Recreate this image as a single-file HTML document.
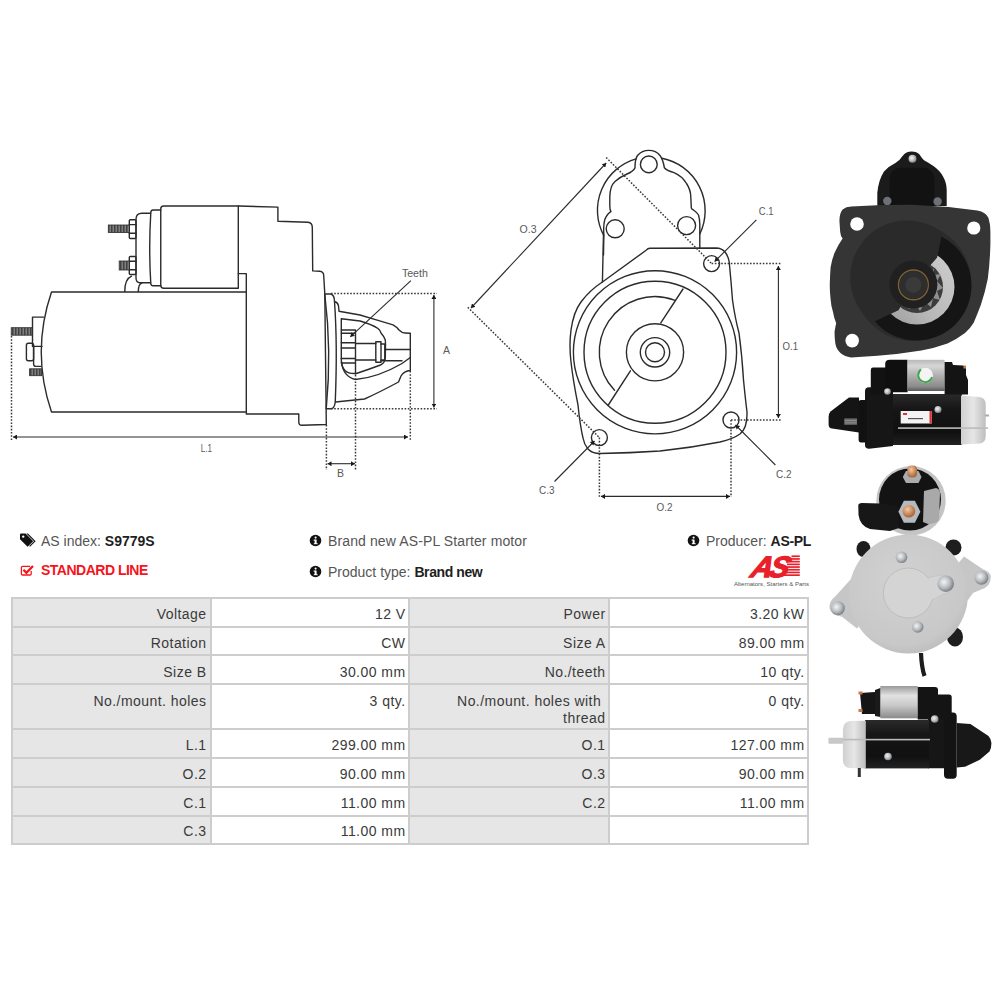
<!DOCTYPE html>
<html><head><meta charset="utf-8">
<style>
*{margin:0;padding:0;box-sizing:border-box}
html,body{width:1000px;height:1000px;background:#fff;overflow:hidden}
body{position:relative;font-family:"Liberation Sans",sans-serif;color:#3a3a3a}
.a{position:absolute;white-space:nowrap}
.t{position:absolute;font-size:14px;line-height:17px;white-space:nowrap;color:#3a3a3a;text-align:right;letter-spacing:0.45px}
.bg{position:absolute;background:#e6e6e6}
.hl{position:absolute;height:2px;background:#cdcdcd}
.vl{position:absolute;width:2px;background:#cdcdcd}
b{font-weight:700;color:#1e1e1e}
svg{position:absolute;left:0;top:0}
</style></head><body>

<!-- info lines -->
<div class="a" style="left:19px;top:532px;width:18px;height:16px">
<svg width="18" height="16" viewBox="0 0 18 16"><path d="M1 2.2 L1 7.2 L8.6 14.8 L14.2 9.2 L6.6 1.6 L1.6 1.6 Z" fill="#111"/><circle cx="4.2" cy="4.6" r="1.2" fill="#fff"/><path d="M9 1.6 L16.6 9.2 L11 14.8 L10.2 14 L15 9.2 L7.4 1.6 Z" fill="#111"/></svg>
</div>
<div class="a" style="left:41px;top:533px;font-size:14px;line-height:17px;color:#555">AS index: <b>S9779S</b></div>

<svg style="left:0;top:0" width="40" height="600" viewBox="0 0 40 600"><path d="M30 566.3 L22.6 566.3 Q21.4 566.3 21.4 567.5 L21.4 573.8 Q21.4 575 22.6 575 L30 575 Q31.2 575 31.2 573.8 L31.2 571" fill="none" stroke="#f5141c" stroke-width="1.3"/><path d="M23.4 569.8 L26.4 572.8 L33 566" fill="none" stroke="#f5141c" stroke-width="2.3"/></svg>
<div class="a" style="left:41px;top:562px;font-size:14px;line-height:17px;color:#f5141c;font-weight:700;letter-spacing:-0.5px">STANDARD LINE</div>

<div class="a" style="left:309px;top:534px;width:13px;height:13px">
<svg width="13" height="13" viewBox="0 0 13 13"><circle cx="6.5" cy="6.5" r="5.8" fill="#111"/><rect x="5.6" y="5.6" width="2" height="4.4" fill="#fff"/><rect x="4.6" y="5.6" width="2" height="1" fill="#fff"/><rect x="4.8" y="9.2" width="3.8" height="1" fill="#fff"/><circle cx="6.6" cy="3.6" r="1.05" fill="#fff"/></svg>
</div>
<div class="a" style="left:328px;top:533px;font-size:14px;line-height:17px;color:#555;letter-spacing:0.12px">Brand new AS-PL Starter motor</div>

<div class="a" style="left:309px;top:565px;width:13px;height:13px">
<svg width="13" height="13" viewBox="0 0 13 13"><circle cx="6.5" cy="6.5" r="5.8" fill="#111"/><rect x="5.6" y="5.6" width="2" height="4.4" fill="#fff"/><rect x="4.6" y="5.6" width="2" height="1" fill="#fff"/><rect x="4.8" y="9.2" width="3.8" height="1" fill="#fff"/><circle cx="6.6" cy="3.6" r="1.05" fill="#fff"/></svg>
</div>
<div class="a" style="left:328px;top:564px;font-size:14px;line-height:17px;color:#555">Product type: <b style="letter-spacing:-0.4px">Brand new</b></div>

<div class="a" style="left:687px;top:534px;width:13px;height:13px">
<svg width="13" height="13" viewBox="0 0 13 13"><circle cx="6.5" cy="6.5" r="5.8" fill="#111"/><rect x="5.6" y="5.6" width="2" height="4.4" fill="#fff"/><rect x="4.6" y="5.6" width="2" height="1" fill="#fff"/><rect x="4.8" y="9.2" width="3.8" height="1" fill="#fff"/><circle cx="6.6" cy="3.6" r="1.05" fill="#fff"/></svg>
</div>
<div class="a" style="left:706px;top:533px;font-size:14px;line-height:17px;color:#555">Producer: <b style="letter-spacing:-0.3px">AS-PL</b></div>

<!-- AS logo -->
<svg style="left:730px;top:550px" width="82" height="40" viewBox="730 550 82 40">
<g fill="#e8202a">
<text x="0" y="0" transform="translate(749.5 577) skewX(-16)" font-family="Liberation Sans" font-weight="700" font-style="italic" font-size="29.5" letter-spacing="-3.2" stroke="#e8202a" stroke-width="1.3">AS</text>
<rect x="791.5" y="555.4" width="8.3" height="1.7"/><rect x="790.0" y="558.1" width="9.8" height="1.7"/><rect x="788.5" y="560.8" width="11.3" height="1.7"/><rect x="787.0" y="563.5" width="12.8" height="1.7"/><rect x="785.6" y="566.2" width="14.2" height="1.7"/><rect x="784.1" y="568.9" width="15.7" height="1.7"/><rect x="782.6" y="571.6" width="17.2" height="1.7"/><rect x="781.1" y="574.3" width="18.7" height="1.7"/>
</g>
<text x="734" y="586.2" font-family="Liberation Sans" font-size="5.4" fill="#555" textLength="75" lengthAdjust="spacingAndGlyphs">Alternators, Starters &amp; Parts</text>
</svg>

<!-- table -->
<div class="bg" style="left:12px;top:598px;width:199px;height:246px"></div>
<div class="bg" style="left:410px;top:598px;width:199px;height:246px"></div>
<div class="hl" style="left:11px;top:597px;width:798px"></div>
<div class="hl" style="left:11px;top:625.5px;width:798px"></div>
<div class="hl" style="left:11px;top:654.3px;width:798px"></div>
<div class="hl" style="left:11px;top:683px;width:798px"></div>
<div class="hl" style="left:11px;top:728.1px;width:798px"></div>
<div class="hl" style="left:11px;top:757px;width:798px"></div>
<div class="hl" style="left:11px;top:786px;width:798px"></div>
<div class="hl" style="left:11px;top:814.7px;width:798px"></div>
<div class="hl" style="left:11px;top:843px;width:798px"></div>
<div class="vl" style="left:11px;top:597px;height:248px"></div>
<div class="vl" style="left:210.2px;top:597px;height:248px"></div>
<div class="vl" style="left:408.3px;top:597px;height:248px"></div>
<div class="vl" style="left:608.2px;top:597px;height:248px"></div>
<div class="vl" style="left:807.2px;top:597px;height:248px"></div>

<!-- table text: right col edge minus 6 -->
<div class="t" style="right:793.5px;top:605.5px">Voltage</div>
<div class="t" style="right:594.5px;top:605.5px">12 V</div>
<div class="t" style="right:394.5px;top:605.5px">Power</div>
<div class="t" style="right:195.5px;top:605.5px">3.20 kW</div>

<div class="t" style="right:793.5px;top:635px">Rotation</div>
<div class="t" style="right:594.5px;top:635px">CW</div>
<div class="t" style="right:394.5px;top:635px">Size A</div>
<div class="t" style="right:195.5px;top:635px">89.00 mm</div>

<div class="t" style="right:793.5px;top:664px">Size B</div>
<div class="t" style="right:594.5px;top:664px">30.00 mm</div>
<div class="t" style="right:394.5px;top:664px">No./teeth</div>
<div class="t" style="right:195.5px;top:664px">10 qty.</div>

<div class="t" style="right:793.5px;top:693px">No./mount. holes</div>
<div class="t" style="right:594.5px;top:693px">3 qty.</div>
<div class="t" style="right:394.5px;top:693px;line-height:16.5px">No./mount. holes with&nbsp;<br>thread</div>
<div class="t" style="right:195.5px;top:693px">0 qty.</div>

<div class="t" style="right:793.5px;top:736.5px">L.1</div>
<div class="t" style="right:594.5px;top:736.5px">299.00 mm</div>
<div class="t" style="right:394.5px;top:736.5px">O.1</div>
<div class="t" style="right:195.5px;top:736.5px">127.00 mm</div>

<div class="t" style="right:793.5px;top:765.5px">O.2</div>
<div class="t" style="right:594.5px;top:765.5px">90.00 mm</div>
<div class="t" style="right:394.5px;top:765.5px">O.3</div>
<div class="t" style="right:195.5px;top:765.5px">90.00 mm</div>

<div class="t" style="right:793.5px;top:794.5px">C.1</div>
<div class="t" style="right:594.5px;top:794.5px">11.00 mm</div>
<div class="t" style="right:394.5px;top:794.5px">C.2</div>
<div class="t" style="right:195.5px;top:794.5px">11.00 mm</div>

<div class="t" style="right:793.5px;top:823px">C.3</div>
<div class="t" style="right:594.5px;top:823px">11.00 mm</div>

<!-- DRAWINGS -->
<svg style="left:0;top:0" width="1000" height="520" viewBox="0 0 1000 520">
<defs>
<pattern id="th" width="1.5" height="10" patternUnits="userSpaceOnUse"><rect width="1.5" height="10" fill="#bbb"/><rect width="1" height="10" fill="#333"/></pattern>
<marker id="ar" viewBox="0 0 10 10" refX="10" refY="5" markerWidth="4" markerHeight="5" preserveAspectRatio="none" markerUnits="userSpaceOnUse" orient="auto-start-reverse"><path d="M0 0 L10 5 L0 10 Z" fill="#1a1a1a"/></marker>
</defs>
<g fill="none" stroke="#2b2b2b" stroke-width="1.4" stroke-linejoin="round" stroke-linecap="round">
<!-- LEFT DRAWING: motor body -->
<path d="M246.3 292 L51.5 292 Q31 352 51.5 412 L245.5 412"/>
<!-- housing -->
<path d="M238.3 206 L277.9 207.1 L277.9 221.2 L308 222.3 Q312.3 222.6 312.3 227.5 L312.7 270.9 L319.7 271.2 Q323.5 271.6 323.7 275.3 L324.8 294 L326.3 424.5 L302 425.3 Q298.8 425.3 298.8 422 L298.8 414 L246.3 414 L246.3 273.65 L238.3 273.65"/>
<!-- solenoid -->
<path d="M238.3 288.3 L163.75 288.3 Q160.75 288.3 160.75 285.3 L160.75 209 Q160.75 206 163.75 206 L238.3 206 Z"/>
<path d="M160.75 210 L153 210 Q151 210 150.8 212.5 Q148.6 248 150.8 283.5 Q151 285.75 153 285.75 L160.75 285.75"/>
<path d="M150.5 213.3 L142 213.3 Q136 213.3 136 219.3 L136 278 Q136 282.75 140 282.75 L150.5 282.75"/>
<!-- nuts -->
<rect x="129.3" y="219.8" width="6.7" height="18.7" rx="1"/>
<path d="M129.3 224.6 L136 224.6 M129.3 233.3 L136 233.3"/>
<rect x="129.3" y="256.5" width="6.7" height="18" rx="1"/>
<path d="M129.3 261.2 L136 261.2 M129.3 269.8 L136 269.8"/>
<!-- cable loops -->
<path d="M124.8 291.5 Q124.8 279 131.5 276.2"/>
<path d="M138.3 291.5 Q138.3 284 142 282.8"/>
<!-- end terminal -->
<path d="M43.6 317.1 L32.5 317.1 L32.5 346.4 L42 346.4"/>
<path d="M33.6 346.4 L33.6 364 Q33.6 366.4 36 366.4 L40.6 366.4"/>
<rect x="26.4" y="343.2" width="7.2" height="17.6" rx="2"/>
<!-- nose flange -->
<path d="M325.5 294 L330.75 294 Q334.5 295 334.5 301.5 Q337.6 345 335.25 402 Q334.5 408.75 330.75 408.75 L326.25 408.75"/>
<path d="M324.8 294.5 Q331.8 351 326.3 408"/>
<!-- nose outer -->
<path d="M334.6 301.5 Q338 302.5 338.5 306 L339 311.3 L360 315 L378 320.3 L393 324.8 Q397 327 399 330 Q402 333 405 333 L410.3 333.3 L410.3 370.5 Q404 371 401 376 L398.5 382 Q380 392 364.5 399 L335.5 402"/>
<!-- inner window -->
<path d="M341.3 318.8 L360 321 Q372 324.5 378 328.5 Q380.5 330.5 381 333 Q384.5 337 385.3 340 L385.5 344 L385.3 358 Q384.8 363 380.5 365 Q370 369 356.3 373.5 Q348.5 374 345 370.5 Q341.3 366.5 341.3 360 Z"/>
<path d="M341.6 362 Q343 376.5 355.5 379.5 Q378 377.5 402 363.5 L410.3 357.5"/>
<!-- pinion -->
<path d="M341.3 330 L355.5 330 M341.3 333.2 L355.5 333.2 M341.3 342.8 L355.5 342.8 M341.3 348 L355.5 348 M341.3 358.5 L355.5 358.5 M341.3 363 L355.5 363 M355.5 330 L355.5 374"/>
<path d="M355.5 343.5 L375.8 343.5 M355.5 360 L375.8 360"/>
<rect x="375.8" y="341.7" width="5.2" height="20.6"/>
<path d="M381 344 L384.8 344 L384.8 360 L381 360"/>
<path d="M384.8 349.5 L410.3 349.5 M381 360.8 L402 360.8"/>
</g>
<!-- threads -->
<g stroke="#2b2b2b" stroke-width="0.8">
<rect x="108.3" y="225" width="21" height="7.5" fill="url(#th)"/>
<rect x="119.2" y="261" width="10.1" height="9" fill="url(#th)"/>
<rect x="11.2" y="327.7" width="21.3" height="7.5" fill="url(#th)"/>
<rect x="29.6" y="368.8" width="12" height="6.9" fill="url(#th)"/>
</g>
<!-- dims left -->
<g fill="none" stroke="#3a3a3a" stroke-width="1.5" stroke-dasharray="1.6 1.6">
<path d="M331 293.5 L437 293.5 M331 408.7 L437 408.7 M355.5 375 L355.5 470 M410.3 371 L410.3 440 M326.4 425 L326.4 470 M11.5 336 L11.5 440"/>
</g>
<g fill="none" stroke="#2b2b2b" stroke-width="1.1">
<path d="M433.9 295 L433.9 407.5" marker-start="url(#ar)" marker-end="url(#ar)"/>
<path d="M13 437 L408 437" marker-start="url(#ar)" marker-end="url(#ar)"/>
<path d="M327.5 463.7 L355 463.7" marker-start="url(#ar)" marker-end="url(#ar)"/>
<path d="M410.9 280.7 L350.3 336.8" marker-end="url(#ar)"/>
</g>
<g font-family="Liberation Sans" fill="#5a5a5a" font-size="10.5">
<text x="401.9" y="276.8" font-size="11" textLength="26" lengthAdjust="spacingAndGlyphs">Teeth</text>
<text x="443" y="354">A</text>
<text x="200.8" y="452" textLength="11.2" lengthAdjust="spacingAndGlyphs">L.1</text>
<text x="337" y="477">B</text>
</g>

<!-- MIDDLE DRAWING -->
<g fill="none" stroke="#2b2b2b" stroke-width="1.4" stroke-linejoin="round" stroke-linecap="round">
<!-- top lobe holes -->
<circle cx="648.8" cy="164.4" r="8.4"/>
<circle cx="615.2" cy="228.8" r="9"/>
<circle cx="686.6" cy="225.6" r="9"/>
<!-- outer arc -->
<path d="M603.8 235.5 A53.5 53.5 0 0 1 636.2 158.8"/>
<path d="M662 158.2 A53.5 53.5 0 0 1 699.8 234"/>
<!-- lobe + inner profile -->
<path d="M603.5 255 L603.8 236 Q603 221 606 217 Q608.5 212.5 611 211.6 Q609.8 210 609.8 206 L609.8 197 Q610 186 615 181.5 Q620 177 627 174 Q633 171.5 635 167.8 Q635 159 637.5 155.5 Q642 150.4 648.8 150.4 Q656 150.4 660 155.5 Q663 159.5 664.4 167.8 Q666.5 170.5 674 172.6 Q682 176 686.5 183.5 Q690.8 190 690.8 197 L691.3 208 Q692 209.5 693.5 210 Q697 212.5 698.5 215 Q699.8 219 699.8 224 L699.8 248.2"/>
<!-- flange plate -->
<path d="M602.4 282 L646.5 250 Q647.5 248.4 650 248.3 L716 248 Q722 248.2 725 252 Q728.2 256 729.2 262 Q731 280 732.5 300 Q735 318 739 333 Q742 355 743.5 380 Q745.5 400 747 412 Q747.5 428 740 434 Q733 439 720 442 Q690 448 660 451 Q630 453 600 453.5 Q592 453.5 588 449 Q584 444 583 438 Q580 425 578 405 Q573 380 571 362 Q569 345 571 330 Q573.5 312 581 302 Q590 290 602.4 282"/>
<path d="M603.5 234 L602.4 282"/>
<!-- circles -->
<circle cx="655" cy="352.3" r="81.6"/>
<circle cx="655" cy="352.3" r="71"/>
<path d="M674.4 300.2 A55.5 55.5 0 0 0 614.5 390.3"/>
<circle cx="655" cy="352.3" r="28.6"/>
<circle cx="655" cy="352.3" r="14.7"/>
<circle cx="655" cy="352.3" r="9.5"/>
<path d="M683 289 L660.8 322.8 M630.4 370.8 L608 405.5"/>
<!-- mount holes -->
<circle cx="711.6" cy="263.6" r="8"/>
<circle cx="731" cy="420" r="8"/>
<circle cx="599.4" cy="437.6" r="8"/>
</g>
<!-- middle dims -->
<g fill="none" stroke="#3a3a3a" stroke-width="1.5" stroke-dasharray="1.6 1.6">
<path d="M606.2 157.5 L711.6 263.6 M711.6 263.6 L781 263.6 M731 420 L781 420 M731 420 L731 497 M599.4 437.6 L599.4 497 M467.8 307.3 L599.4 437.6"/>
</g>
<g fill="none" stroke="#2b2b2b" stroke-width="1.1">
<path d="M778.4 266 L778.4 418" marker-start="url(#ar)" marker-end="url(#ar)"/>
<path d="M601 496.4 L730 496.4" marker-start="url(#ar)" marker-end="url(#ar)"/>
<path d="M606.2 163 L471 308" marker-start="url(#ar)" marker-end="url(#ar)"/>
<path d="M756.4 219.8 L714.6 261.6" marker-end="url(#ar)"/>
<path d="M775.4 465 L735.5 425" marker-end="url(#ar)"/>
<path d="M554.5 481.5 L594.5 441" marker-end="url(#ar)"/>
</g>
<g font-family="Liberation Sans" fill="#5a5a5a" font-size="10.5">
<text x="519.6" y="232.5" textLength="17" lengthAdjust="spacingAndGlyphs">O.3</text>
<text x="758.8" y="214.5" textLength="14.8" lengthAdjust="spacingAndGlyphs">C.1</text>
<text x="782.5" y="349.5" textLength="15.5" lengthAdjust="spacingAndGlyphs">O.1</text>
<text x="776" y="477.5" textLength="15.5" lengthAdjust="spacingAndGlyphs">C.2</text>
<text x="539" y="493.5" textLength="15.5" lengthAdjust="spacingAndGlyphs">C.3</text>
<text x="656.5" y="510.5" textLength="16" lengthAdjust="spacingAndGlyphs">O.2</text>
</g>
</svg>


<!-- PHOTOS -->
<svg style="left:0;top:0" width="1000" height="800" viewBox="0 0 1000 800">
<defs>
<linearGradient id="silv" x1="0" y1="0" x2="0" y2="1"><stop offset="0" stop-color="#b8b8b8"/><stop offset="0.2" stop-color="#d6d6d6"/><stop offset="0.5" stop-color="#b0b0b0"/><stop offset="0.85" stop-color="#8c8c8c"/><stop offset="1" stop-color="#5a5a5a"/></linearGradient>
<linearGradient id="silv2" x1="0" y1="0" x2="0" y2="1"><stop offset="0" stop-color="#9a9a9a"/><stop offset="0.3" stop-color="#e2e2e2"/><stop offset="0.6" stop-color="#c8c8c8"/><stop offset="1" stop-color="#8a8a8a"/></linearGradient>
<linearGradient id="ring" x1="1" y1="0" x2="0" y2="1"><stop offset="0" stop-color="#cfcfcf"/><stop offset="0.6" stop-color="#b8b8b8"/><stop offset="1" stop-color="#9a9a9a"/></linearGradient>
<linearGradient id="cap" x1="0" y1="0" x2="1" y2="0"><stop offset="0" stop-color="#d0d0d0"/><stop offset="0.5" stop-color="#e6e6e6"/><stop offset="1" stop-color="#bdbdbd"/></linearGradient>
<radialGradient id="disc" cx="0.45" cy="0.4" r="0.7"><stop offset="0" stop-color="#d2d2d2"/><stop offset="0.75" stop-color="#c8c8c8"/><stop offset="1" stop-color="#b4b4b4"/></radialGradient>
<linearGradient id="blk" x1="0" y1="0" x2="0" y2="1"><stop offset="0" stop-color="#2a2a2a"/><stop offset="0.3" stop-color="#161616"/><stop offset="0.75" stop-color="#101010"/><stop offset="1" stop-color="#222"/></linearGradient>
<radialGradient id="bolt" cx="0.4" cy="0.4" r="0.6"><stop offset="0" stop-color="#f4f4f4"/><stop offset="0.6" stop-color="#b8bcc0"/><stop offset="1" stop-color="#7d8288"/></radialGradient>
<radialGradient id="cu" cx="0.4" cy="0.35" r="0.6"><stop offset="0" stop-color="#f2c9a8"/><stop offset="1" stop-color="#b06a3a"/></radialGradient>
</defs>

<!-- PHOTO 1: front view black -->
<g>
<!-- solenoid dome -->
<path d="M877.3 206 L877.3 193 Q878.5 180 884 171.6 Q889 166 895.4 163 Q900 160 903 155.4 Q906 151.6 911.5 151.6 Q917 151.6 919.5 154.5 Q922 158.5 924 160.2 Q929 163 933.4 165.9 Q940 170.5 942.9 176.3 Q946.7 183 946.7 190 L946.7 206 Z" fill="#1b1b1b"/>
<path d="M889.7 206 L889.7 178 Q891 169 900 167.8 L924 167.8 Q933 169 934.3 178 L934.3 206 Z" fill="#121212"/>
<circle cx="912.5" cy="158.8" r="4" fill="url(#bolt)"/>
<circle cx="887.3" cy="201" r="4.2" fill="#6d7074"/>
<circle cx="937.6" cy="201.5" r="4.2" fill="#6d7074"/>
<!-- plate -->
<path d="M851.3 206.6 Q880 204.5 912 204.8 Q945 206 977.3 210.5 Q986 212 988.5 218 Q990.4 224 990.4 232 L990.4 243.8 Q990 262 987.8 278.8 Q985 293 980.8 305 Q977 315 973.8 322.5 Q970 329 965 333 Q957 339 947.5 343.5 Q935 348 921.3 350.5 Q900 354 877.5 355.8 L851 357.6 Q844.5 356.5 841 353.6 Q836.5 349.5 835.4 344 Q834.4 337 834.6 331.2 Q835.5 326 836.2 323.2 Q834 318 833 312 Q831 305.5 830.6 299.2 Q829.6 291 829.8 283.2 Q830 275 830.6 267.2 Q832 259 834.6 252.8 Q838.5 244 842.6 238.4 Q840.5 236 840.2 232 L839.4 220.8 Q839.6 213 842.6 209.6 Q846 206.8 851.3 206.6 Z" fill="#353535"/>
<!-- boss -->
<circle cx="912.5" cy="282.3" r="58.6" fill="#2b2b2b"/>
<circle cx="916.5" cy="285.5" r="55" fill="#151515"/>
<!-- silver ring -->
<circle cx="917" cy="287" r="37.5" fill="url(#ring)"/>
<circle cx="917" cy="287" r="26" fill="#3c3c3c"/>
<path d="M899 306 L905 300 L909 309 L915 303 L920 311 L925 302 L931 307 L933 298 L940 300 L937 291 L943 288 L937 281 L941 274 L933 275 L934 268 L920 290 Z" fill="#8f8f8f"/>
<!-- black cover sector -->
<path d="M942.3 232.4 A57 57 0 1 0 872.3 322.5 L898.5 310.3 L913.4 284.5 L937 257.8 Z" fill="#2a2a2a"/>
<!-- hub -->
<circle cx="913.4" cy="284.5" r="24" fill="#202020"/>
<circle cx="913.4" cy="284.9" r="14.9" fill="none" stroke="#7d6136" stroke-width="1.4"/>
<circle cx="913.4" cy="284.9" r="14" fill="#2e2e2e"/>
<circle cx="913.4" cy="284.9" r="8" fill="#3a3a3a"/>
<!-- holes -->
<circle cx="857" cy="224" r="6.8" fill="#fff"/>
<circle cx="973.8" cy="228" r="6.6" fill="#fff"/>
<circle cx="852.2" cy="340.6" r="6.8" fill="#fff"/>
</g>

<!-- PHOTO 2: side view -->
<g>
<!-- drive housing -->
<path d="M865 391 Q865 387.2 869 387.2 L893 388 L893 446 L869 448.8 Q865 448.8 865 445 Z" fill="#161616"/>
<path d="M858.6 403 Q858.6 400 861 400 L866.6 400 L866.6 442.4 L861 442.4 Q858.6 442.4 858.6 439.5 Z" fill="#111"/>
<!-- nose -->
<path d="M859 397.6 L849 397.6 L830.5 411.5 Q828.6 413.5 828.6 417 L828.6 425 Q829 428 832 428.6 L859 432.5 Z" fill="#141414"/>
<path d="M844.2 418.4 L857 418.4 L857 424.8 L844.2 424.8 Z" fill="#6a6a6a"/>
<path d="M845 420.5 L856.5 420.5 M845 422.8 L856.5 422.8" stroke="#999" stroke-width="0.7"/>
<!-- body -->
<rect x="893" y="394" width="69" height="51" fill="url(#blk)"/>
<!-- silver end cap -->
<path d="M961 395.5 L980 397 Q985.7 398 985.7 405 L985.7 436 Q985.7 443 980 443.5 L961 444.5 Z" fill="url(#cap)"/>
<!-- label -->
<rect x="900.7" y="411" width="31" height="12.5" fill="#f3f3f3"/>
<rect x="929.5" y="411" width="2.2" height="12.5" fill="#d33"/>
<rect x="903" y="413" width="4" height="2" fill="#d33"/>
<rect x="908" y="418" width="15" height="1.2" fill="#555"/>
<!-- rod -->
<rect x="898" y="427.3" width="90" height="1.6" fill="#bbb"/>
<rect x="985" y="414.5" width="4" height="2" fill="#aaa"/>
<!-- solenoid -->
<path d="M870.8 370 Q870.8 367.6 873 367.6 L886 367.6 L886 394.6 L870.8 394.6 Z" fill="#121212"/>
<path d="M885.2 364 Q885.2 359.8 890 359.8 L907.6 359.8 L907.6 392.2 L888 392.2 Q885.2 392.2 885.2 389 Z" fill="#0f0f0f"/>
<rect x="907.4" y="359.8" width="37.2" height="31.2" fill="url(#silv)"/>
<circle cx="925.4" cy="375.4" r="7.6" fill="#f4f4f4"/>
<path d="M921 369.5 A7 7 0 1 0 932 377" fill="none" stroke="#3aa84a" stroke-width="1.8"/>
<path d="M944.6 362 L952 362 L953 365 L963 365.5 L966 368 L966 375 L968 380 L968 394.6 L944.6 394.6 Z" fill="#141414"/>
<rect x="963.5" y="365.5" width="2.5" height="3" fill="#c87a4a"/>
<circle cx="887.5" cy="391.5" r="3.3" fill="url(#bolt)"/>
<circle cx="938" cy="409.4" r="3.5" fill="url(#bolt)"/>
</g>

<!-- PHOTO 3: rear view silver -->
<g>
<!-- dark lobes behind -->
<ellipse cx="863.5" cy="549" rx="7" ry="8" fill="#1e1e1e"/>
<ellipse cx="953.5" cy="547.5" rx="8" ry="8" fill="#1e1e1e"/>
<ellipse cx="955" cy="637" rx="8" ry="9.5" fill="#1e1e1e"/>
<!-- solenoid -->
<circle cx="911" cy="500.7" r="34.7" fill="#c4c4c4"/>
<circle cx="910" cy="499.5" r="31" fill="#131313"/>
<path d="M858.3 506 Q858 503 862 502.9 L880 503.5 L898 506 L899 528 L890 531 L870 529 Q860 526 858.5 515 Z" fill="#171717"/>
<path d="M924 491 L936 488 Q940 489 940 493 L939 520 Q936 524 928 524 L923 522 Z" fill="#a9a9a9"/>
<polygon points="902.8,477 906,471 918.5,471 921.5,477 918.5,483 906,483" fill="#a8adb2"/>
<rect x="907.3" y="465.5" width="9.8" height="12" rx="4" fill="url(#cu)"/>
<polygon points="898.4,511.7 903.9,500.7 914.9,500.7 920.4,511.7 914.9,522.7 903.9,522.7" fill="#b5babf"/>
<circle cx="908.9" cy="511.2" r="6.3" fill="url(#cu)"/>
<!-- disc with ears -->
<path d="M851 579 L835.2 596.4 Q829 601 829.5 608 Q830.5 615 842 616.8 L857 628.5 L880 600 Z" fill="#c6c6c6"/>
<path d="M964 556.5 L983 569.2 Q990.8 572 990.8 577 Q990.5 585 984.8 588 L973 593 L968 600 L940 585 Z" fill="#c6c6c6"/>
<circle cx="908.5" cy="594" r="59.5" fill="url(#disc)"/>
<!-- cover -->
<path d="M925 578 L941 575 Q953 575 954 584 Q953 592 944 594 L926 603 Z" fill="#d3d3d3" stroke="#bdbdbd" stroke-width="0.6"/>
<circle cx="908.3" cy="593" r="25" fill="#d4d4d4" stroke="#b8b8b8" stroke-width="0.8"/>
<path d="M926 579 L941 576 Q952 576 953 584 Q952 591 944 593 L927 602 Z" fill="#d4d4d4"/>
<!-- bolts -->
<circle cx="901.5" cy="557.3" r="5.8" fill="url(#bolt)"/>
<circle cx="945.7" cy="583.7" r="8.3" fill="url(#bolt)"/>
<circle cx="981.4" cy="577.7" r="7" fill="url(#bolt)"/>
<circle cx="837.8" cy="608.3" r="7" fill="url(#bolt)"/>
<circle cx="917.7" cy="627" r="5.8" fill="url(#bolt)"/>
<!-- cable -->
<path d="M921 653 Q921.5 667 924.5 676" fill="none" stroke="#1c1c1c" stroke-width="4.2"/>
</g>

<!-- PHOTO 4: side view lower -->
<g>
<!-- drive housing -->
<path d="M917.7 716 L944 716 L944 768.2 L928 768.2 L928 719.5 L917.7 719.5 Z" fill="#161616"/>
<path d="M944 716 Q944 712.6 948 712.6 L953 712.6 Q956.7 712.6 956.7 716.5 L956.7 775 Q956.7 778.7 953 778.7 L948 778.7 Q944 778.7 944 775 Z" fill="#131313"/>
<!-- nose -->
<path d="M956.7 723 L970.4 724.1 L988.5 736 Q991.6 739.5 991.4 743.5 Q991.4 748.5 989.5 751.4 L979.8 759.8 L965 766.8 L956.7 767.5 Z" fill="#181818"/>
<!-- body -->
<rect x="865" y="720" width="64" height="48.4" fill="url(#blk)"/>
<!-- silver cap -->
<path d="M865.8 720.8 L850 721 Q843 722 842.9 730 L842.9 760 Q843 767.5 850 768 L865.8 768.4 Z" fill="url(#cap)"/>
<!-- rod + stud -->
<rect x="830" y="738.8" width="100" height="1.6" fill="#bbb"/>
<rect x="828.4" y="737.8" width="14.6" height="6" rx="1" fill="#c8c8c8"/>
<rect x="857.8" y="768" width="3" height="9" fill="#333"/>
<circle cx="888" cy="756.5" r="3.8" fill="url(#bolt)"/>
<!-- solenoid -->
<rect x="880.3" y="686" width="37.4" height="32.3" fill="url(#silv2)"/>
<path d="M917.7 687 L935 687 Q938 687 938 690 L938 694.5 L949 694.5 Q951.7 694.5 951.7 697 L951.7 718.3 L917.7 718.3 Z" fill="#141414"/>
<path d="M875 690 L880.3 688 L880.3 717 L875 716 Z" fill="#1a1a1a"/>
<path d="M860 693 L875 692 L875 714 L862 714 Z" fill="#151515"/>
<rect x="858.5" y="691.5" width="4" height="3" fill="#c87a4a"/>
<rect x="858.5" y="709" width="4" height="3" fill="#c87a4a"/>
<circle cx="934.7" cy="719" r="3.8" fill="url(#bolt)"/>
</g>
</svg>

</body></html>
